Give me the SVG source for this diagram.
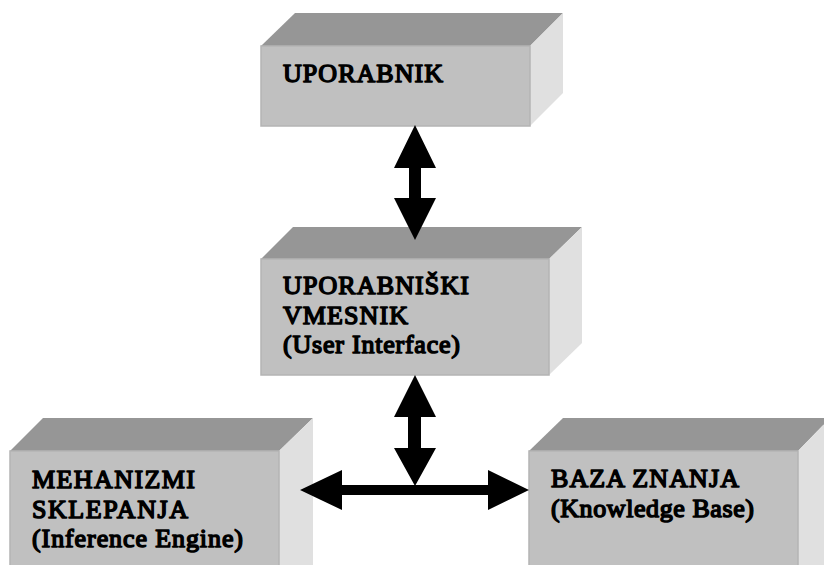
<svg xmlns="http://www.w3.org/2000/svg" width="824" height="565" viewBox="0 0 824 565">
  <style>
    .front { fill: #c0c0c0; stroke: #b4b4b4; stroke-width: 1.5; }
    .top { fill: #969696; }
    .side { fill: #e0e0e0; }
    .label { font-family: 'Liberation Serif', 'Times New Roman', serif; font-size: 26px; fill: #000; stroke: #000; stroke-width: 1.5px; stroke-linejoin: round; }
    .arrow { fill: #000; }
  </style>
  <rect x="0" y="0" width="824" height="565" fill="#fff"/>

  <!-- block: user -->
  <g id="uporabnik">
    <polygon class="top" points="261,46 295,13 563,13 530,46"/>
    <polygon class="side" points="530,46 563,13 563,93 530,126"/>
    <rect class="front" x="261" y="46" width="269" height="80"/>
    <text class="label" x="283" y="82" textLength="160" lengthAdjust="spacing">UPORABNIK</text>
  </g>

  <!-- block: user interface -->
  <g id="vmesnik">
    <polygon class="top" points="261,259 293,227 582,227 549,259"/>
    <polygon class="side" points="549,259 582,227 582,343 549,375"/>
    <rect class="front" x="261" y="259" width="288" height="116"/>
    <text class="label" x="283" y="294" textLength="186" lengthAdjust="spacing">UPORABNIŠKI</text>
    <text class="label" x="283" y="324" textLength="125" lengthAdjust="spacing">VMESNIK</text>
    <text class="label" x="283" y="353" textLength="177" lengthAdjust="spacing">(User Interface)</text>
  </g>

  <!-- block: inference engine -->
  <g id="mehanizmi">
    <polygon class="top" points="10,451 43,418 313,418 279,451"/>
    <polygon class="side" points="279,451 313,418 313,580 279,580"/>
    <rect class="front" x="10" y="451" width="269" height="130"/>
    <text class="label" x="32" y="488" textLength="163" lengthAdjust="spacing">MEHANIZMI</text>
    <text class="label" x="32" y="518" textLength="156" lengthAdjust="spacing">SKLEPANJA</text>
    <text class="label" x="32" y="547" textLength="211" lengthAdjust="spacing">(Inference Engine)</text>
  </g>

  <!-- block: knowledge base -->
  <g id="baza">
    <polygon class="top" points="529,451 563,418 830,418 798,451"/>
    <polygon class="side" points="798,451 830,418 830,580 798,580"/>
    <rect class="front" x="529" y="451" width="269" height="130"/>
    <text class="label" x="551" y="487" textLength="188" lengthAdjust="spacing">BAZA ZNANJA</text>
    <text class="label" x="551" y="517" textLength="203" lengthAdjust="spacing">(Knowledge Base)</text>
  </g>

  <!-- connectors -->
  <g id="connectors">
    <!-- user <-> user interface -->
    <polygon class="arrow" points="415,125 436,168 421,168 421,198 436,198 415,240 394,198 409,198 409,168 394,168"/>
    <!-- user interface <-> junction -->
    <polygon class="arrow" points="415,375 436,417 421,417 421,448 436,448 415,486 394,448 408,448 408,417 394,417"/>
    <!-- inference engine <-> knowledge base -->
    <polygon class="arrow" points="300,490 342,470 342,485 488,485 488,470 529,490 488,510 488,495 342,495 342,510"/>
  </g>
</svg>
